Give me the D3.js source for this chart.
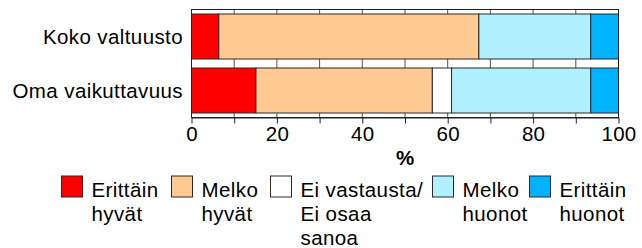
<!DOCTYPE html>
<html>
<head>
<meta charset="utf-8">
<script src="https://cdn.jsdelivr.net/npm/d3@7/dist/d3.min.js"></script>
<style>
  html, body { margin: 0; padding: 0; background: #fff; }
  svg { display: block; }
  text { font-family: "Liberation Sans", Arial, sans-serif; fill: #000; }
</style>
</head>
<body>
<svg id="chart" width="642" height="248"></svg>
<script>
// ---- data ----
const categories = ["Koko valtuusto", "Oma vaikuttavuus"];
const seriesNames = ["Erittäin hyvät", "Melko hyvät", "Ei vastausta/ Ei osaa sanoa", "Melko huonot", "Erittäin huonot"];
const legendLines = [["Erittäin", "hyvät"], ["Melko", "hyvät"], ["Ei vastausta/", "Ei osaa", "sanoa"], ["Melko", "huonot"], ["Erittäin", "huonot"]];
const kokoValtuusto = [6.4, 60.9, 0, 26.2, 6.5];
const omaVaikuttavuus = [15.1, 41.3, 4.5, 32.6, 6.5];
const tickValues = [0, 20, 40, 60, 80, 100];
const axisTitle = "%";

// ---- style / layout ----
const colors = ["#FF0000", "#FFC994", "#FFFFFF", "#B0F0FF", "#00B2FF"];
const legendX = [61.5, 171.5, 270.5, 432.5, 529.5];

const svg = d3.select("#chart");
const pLeft = 191.5, pRight = 618.5, pTop = 9.5, pBottom = 117.5;

const x = d3.scaleLinear().domain([0, 100]).range([pLeft, pRight]);
const y = d3.scaleBand().domain(categories).range([pTop, pBottom]).paddingInner(1/6).paddingOuter(1/12);

// gridlines
svg.append("g").selectAll("line").data(d3.range(0, 101, 10)).join("line")
  .attr("x1", d => x(d)).attr("x2", d => x(d))
  .attr("y1", pTop).attr("y2", pBottom)
  .attr("stroke", "#555").attr("stroke-width", 1);

// stacked bars
const rows = [kokoValtuusto, omaVaikuttavuus].map((vals, i) => {
  const o = { cat: categories[i] };
  seriesNames.forEach((s, j) => o[s] = vals[j]);
  return o;
});
const stacked = d3.stack().keys(seriesNames)(rows);
svg.append("g").selectAll("g").data(stacked).join("g")
  .attr("fill", (d, i) => colors[i])
  .selectAll("rect").data(d => d.filter(p => p[1] - p[0] > 0)).join("rect")
  .attr("x", d => x(d[0])).attr("width", d => x(d[1]) - x(d[0]))
  .attr("y", d => y(d.data.cat)).attr("height", y.bandwidth())
  .attr("stroke", "#2a2a2a").attr("stroke-width", 1);

// frame
svg.append("rect").attr("x", pLeft).attr("y", pTop)
  .attr("width", pRight - pLeft).attr("height", pBottom - pTop)
  .attr("fill", "none").attr("stroke", "#222").attr("stroke-width", 1);

// bottom axis
const axis = d3.axisBottom(x).tickValues(d3.range(0, 101, 10)).tickSize(6).tickSizeOuter(0)
  .tickFormat(d => tickValues.includes(d) ? d : "");
const gx = svg.append("g").attr("transform", `translate(0,${pBottom})`).call(axis);
gx.select(".domain").attr("stroke", "#222");
gx.selectAll(".tick line").attr("stroke", "#222");
gx.selectAll(".tick text").attr("font-size", 20.5).attr("font-family", "Liberation Sans, Arial, sans-serif")
  .attr("letter-spacing", 0.3)
  .attr("fill", "#000").attr("y", 9).attr("dy", "0.71em");

svg.append("text").attr("x", (pLeft + pRight) / 2).attr("y", 165)
  .attr("text-anchor", "middle").attr("font-size", 20.5).attr("font-weight", "bold").text(axisTitle);

// category labels
svg.append("g").selectAll("text").data(categories).join("text")
  .attr("x", 183).attr("y", d => y(d) + y.bandwidth() / 2)
  .attr("dy", "0.36em").attr("text-anchor", "end").attr("font-size", 20.5)
  .attr("letter-spacing", 0.4).text(d => d);

// legend
const lg = svg.append("g").selectAll("g").data(seriesNames).join("g")
  .attr("transform", (d, i) => `translate(${legendX[i]},176)`);
lg.append("rect").attr("width", 21).attr("height", 21)
  .attr("fill", (d, i) => colors[i]).attr("stroke", "#2a2a2a").attr("stroke-width", 1);
lg.each(function(d, i) {
  const t = d3.select(this).append("text").attr("x", 30).attr("y", 21)
    .attr("font-size", 20.5).attr("letter-spacing", 0.4);
  legendLines[i].forEach((line, k) => {
    t.append("tspan").attr("x", 30).attr("y", 21 + k * 24).text(line);
  });
});
</script>
</body>
</html>
